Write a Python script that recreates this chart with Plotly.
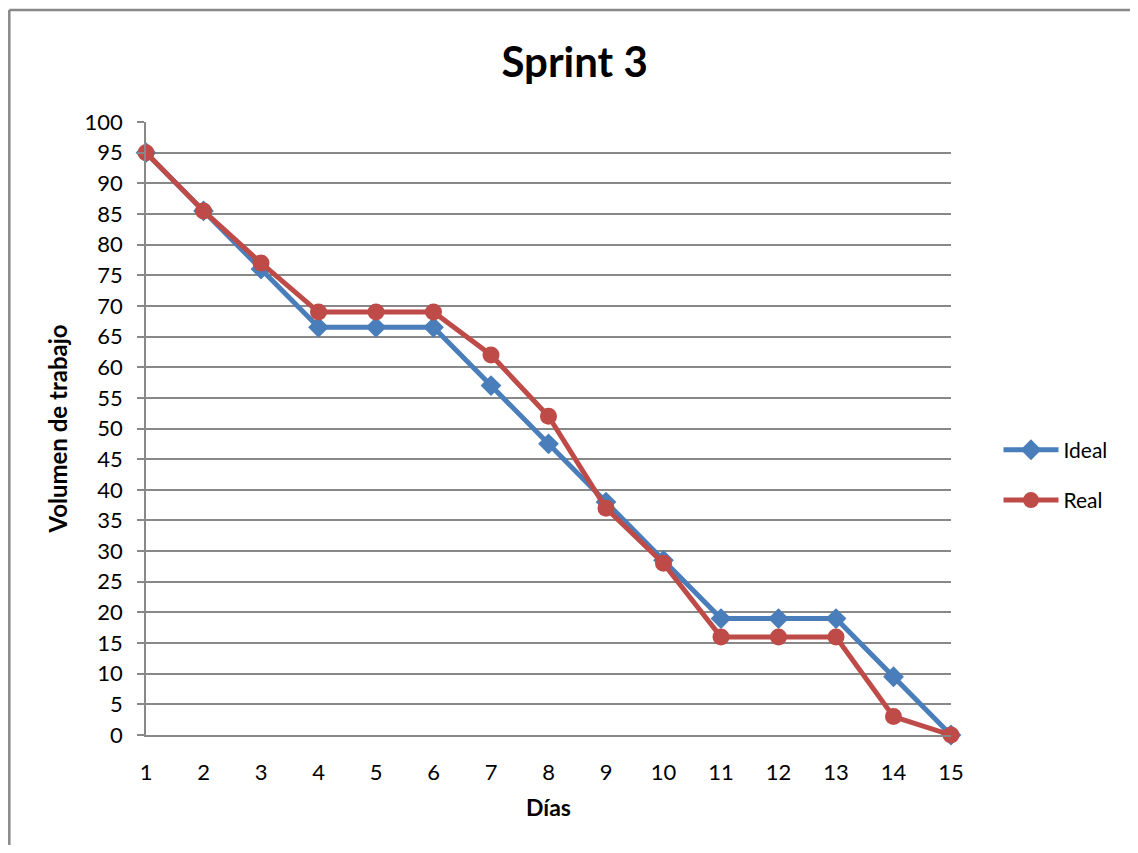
import plotly.graph_objects as go

dias = list(range(1, 16))
ideal = [95, 85.5, 76, 66.5, 66.5, 66.5, 57, 47.5, 38, 28.5, 19, 19, 19, 9.5, 0]
real = [95, 85.5, 77, 69, 69, 69, 62, 52, 37, 28, 16, 16, 16, 3, 0]
y_ticks = list(range(0, 101, 5))

FONT = "Lato"
fig = go.Figure()
fig.add_trace(go.Scatter(x=dias, y=ideal, name="Ideal", mode="lines+markers",
                         legendgroup="a", cliponaxis=False,
                         line=dict(color="#4A7EBB", width=5),
                         marker=dict(symbol="diamond", size=16, color="#4A7EBB")))
fig.add_trace(go.Scatter(x=dias, y=real, name="Real", mode="lines+markers",
                         legendgroup="b", cliponaxis=False,
                         line=dict(color="#BE4B48", width=5),
                         marker=dict(symbol="circle", size=17, color="#BE4B48")))

border = dict(color="#888888", width=2.5)
# page body has an 8px margin, so the figure is offset by 8px and kept inside the window
fig.update_layout(
    width=1122, height=837,
    margin=dict(l=138, r=179, t=114, b=110),
    paper_bgcolor="white", plot_bgcolor="white",
    font=dict(family=FONT, color="black", size=22),
    title=dict(text="<b>Sprint 3</b>", x=0.505, xanchor="center", y=0.9355, yanchor="middle",
               font=dict(size=42, family=FONT)),
    showlegend=True,
    legend=dict(x=1.059, xanchor="left", y=0.424, yanchor="middle",
                font=dict(size=21, family=FONT), itemwidth=55,
                traceorder="grouped", tracegroupgap=20, bgcolor="rgba(0,0,0,0)"),
    shapes=[
        dict(type="line", xref="paper", yref="paper", x0=-0.1698, x1=1.3,
             y0=1.1827, y1=1.1827, line=border, layer="below"),
        dict(type="line", xref="paper", yref="paper", x0=-0.1698, x1=-0.1698,
             y0=1.1827, y1=-0.3, line=border, layer="below"),
    ],
)
fig.update_xaxes(range=[1, 15], tickvals=dias, ticktext=[str(d) for d in dias],
                 showgrid=False, showline=True, linecolor="#888888", linewidth=1.5,
                 ticks="", ticklabelstandoff=17, zeroline=False,
                 title=dict(text="<b>Días</b>", font=dict(size=23, family=FONT), standoff=16))
fig.update_yaxes(range=[0, 100], tickvals=y_ticks, ticktext=[str(v) for v in y_ticks],
                 showgrid=True, gridcolor="#888888", gridwidth=1.5,
                 showline=True, linecolor="#888888", linewidth=1.5,
                 ticks="outside", ticklen=7, tickcolor="#888888", tickwidth=1.5,
                 ticklabelstandoff=10, zeroline=False,
                 title=dict(text="<b>Volumen de trabajo</b>", font=dict(size=24, family=FONT), standoff=10))

fig.write_html("out.html")
